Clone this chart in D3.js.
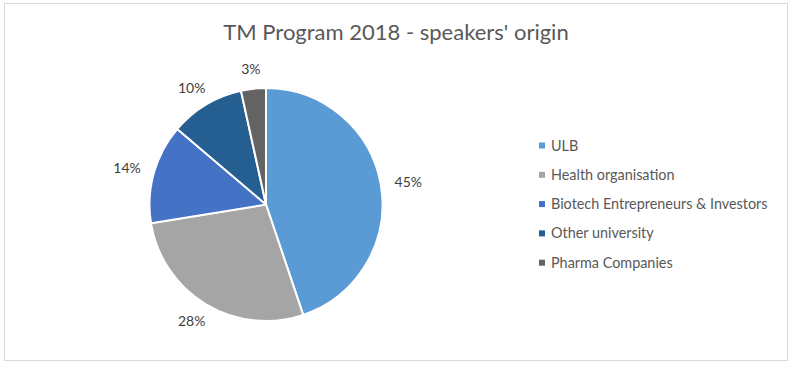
<!DOCTYPE html>
<html>
<head>
<meta charset="utf-8">
<script src="https://cdn.jsdelivr.net/npm/d3@7"></script>
<style>
	body { margin: 0; background: #fff; }
	svg { display: block; font-family: Lato, "Open Sans", sans-serif; }
</style>
</head>
<body>
<svg id="chart" width="793" height="368"></svg>
<script>
// speaker counts per origin (29 speakers in total)
var categories = ["ULB", "Health organisation", "Biotech Entrepreneurs & Investors", "Other university", "Pharma Companies"];
var speakers = [13, 8, 4, 3, 1];
var colors = ["#5B9BD5", "#A5A5A5", "#4472C4", "#255E91", "#636363"];
var title = "TM Program 2018 - speakers' origin";

var svg = d3.select("#chart");
var cx = 266, cy = 204.5, radius = 116.5;

// chart frame
svg.append("rect").attr("x", 4.5).attr("y", 3.5).attr("width", 783).attr("height", 357)
	.attr("fill", "#fff").attr("stroke", "#d9d9d9").attr("stroke-width", 1);

svg.append("text").attr("x", 396).attr("y", 39.5).attr("text-anchor", "middle")
	.attr("font-size", 22).attr("fill", "#595959").text(title);

var total = d3.sum(speakers);
var data = categories.map(function(c, i) { return {name: c, value: speakers[i], color: colors[i]}; });
var pie = d3.pie().value(function(d) { return d.value; }).sort(null);
var arc = d3.arc().innerRadius(0).outerRadius(radius);
var arcs = pie(data);

var g = svg.append("g").attr("transform", "translate(" + cx + "," + cy + ")");
g.selectAll("path.slice").data(arcs).enter().append("path").attr("class", "slice")
	.attr("d", arc).attr("fill", function(a) { return a.data.color; })
	.attr("stroke", "#fff").attr("stroke-width", 2).attr("stroke-linejoin", "round");

// labels sit just outside the pie, box pushed outwards along the mid angle
g.selectAll("text.lbl").data(arcs).enter().append("text").attr("class", "lbl")
	.attr("font-size", 14).attr("fill", "#404040").attr("text-anchor", "middle")
	.text(function(a) { return Math.round(a.data.value / total * 100) + "%"; })
	.each(function(a) {
		var t = d3.select(this);
		var w = this.getComputedTextLength(), h = 12;
		var ang = (a.startAngle + a.endAngle) / 2;
		var r = radius + 14;
		var x = r * Math.sin(ang) + w / 2 * Math.sin(ang);
		var y = -r * Math.cos(ang) - h / 2 * Math.cos(ang);
		t.attr("x", x).attr("y", y + 5);
	});

// legend
var legend = svg.selectAll("g.legend").data(data).enter().append("g").attr("class", "legend")
	.attr("transform", function(d, i) { return "translate(539," + (145.5 + i * 29.3) + ")"; });
legend.append("rect").attr("x", 0).attr("y", -3).attr("width", 6).attr("height", 6)
	.attr("fill", function(d) { return d.color; });
legend.append("text").attr("x", 12).attr("y", 5).attr("font-size", 14.4).attr("fill", "#595959")
	.text(function(d) { return d.name; });
</script>
</body>
</html>
